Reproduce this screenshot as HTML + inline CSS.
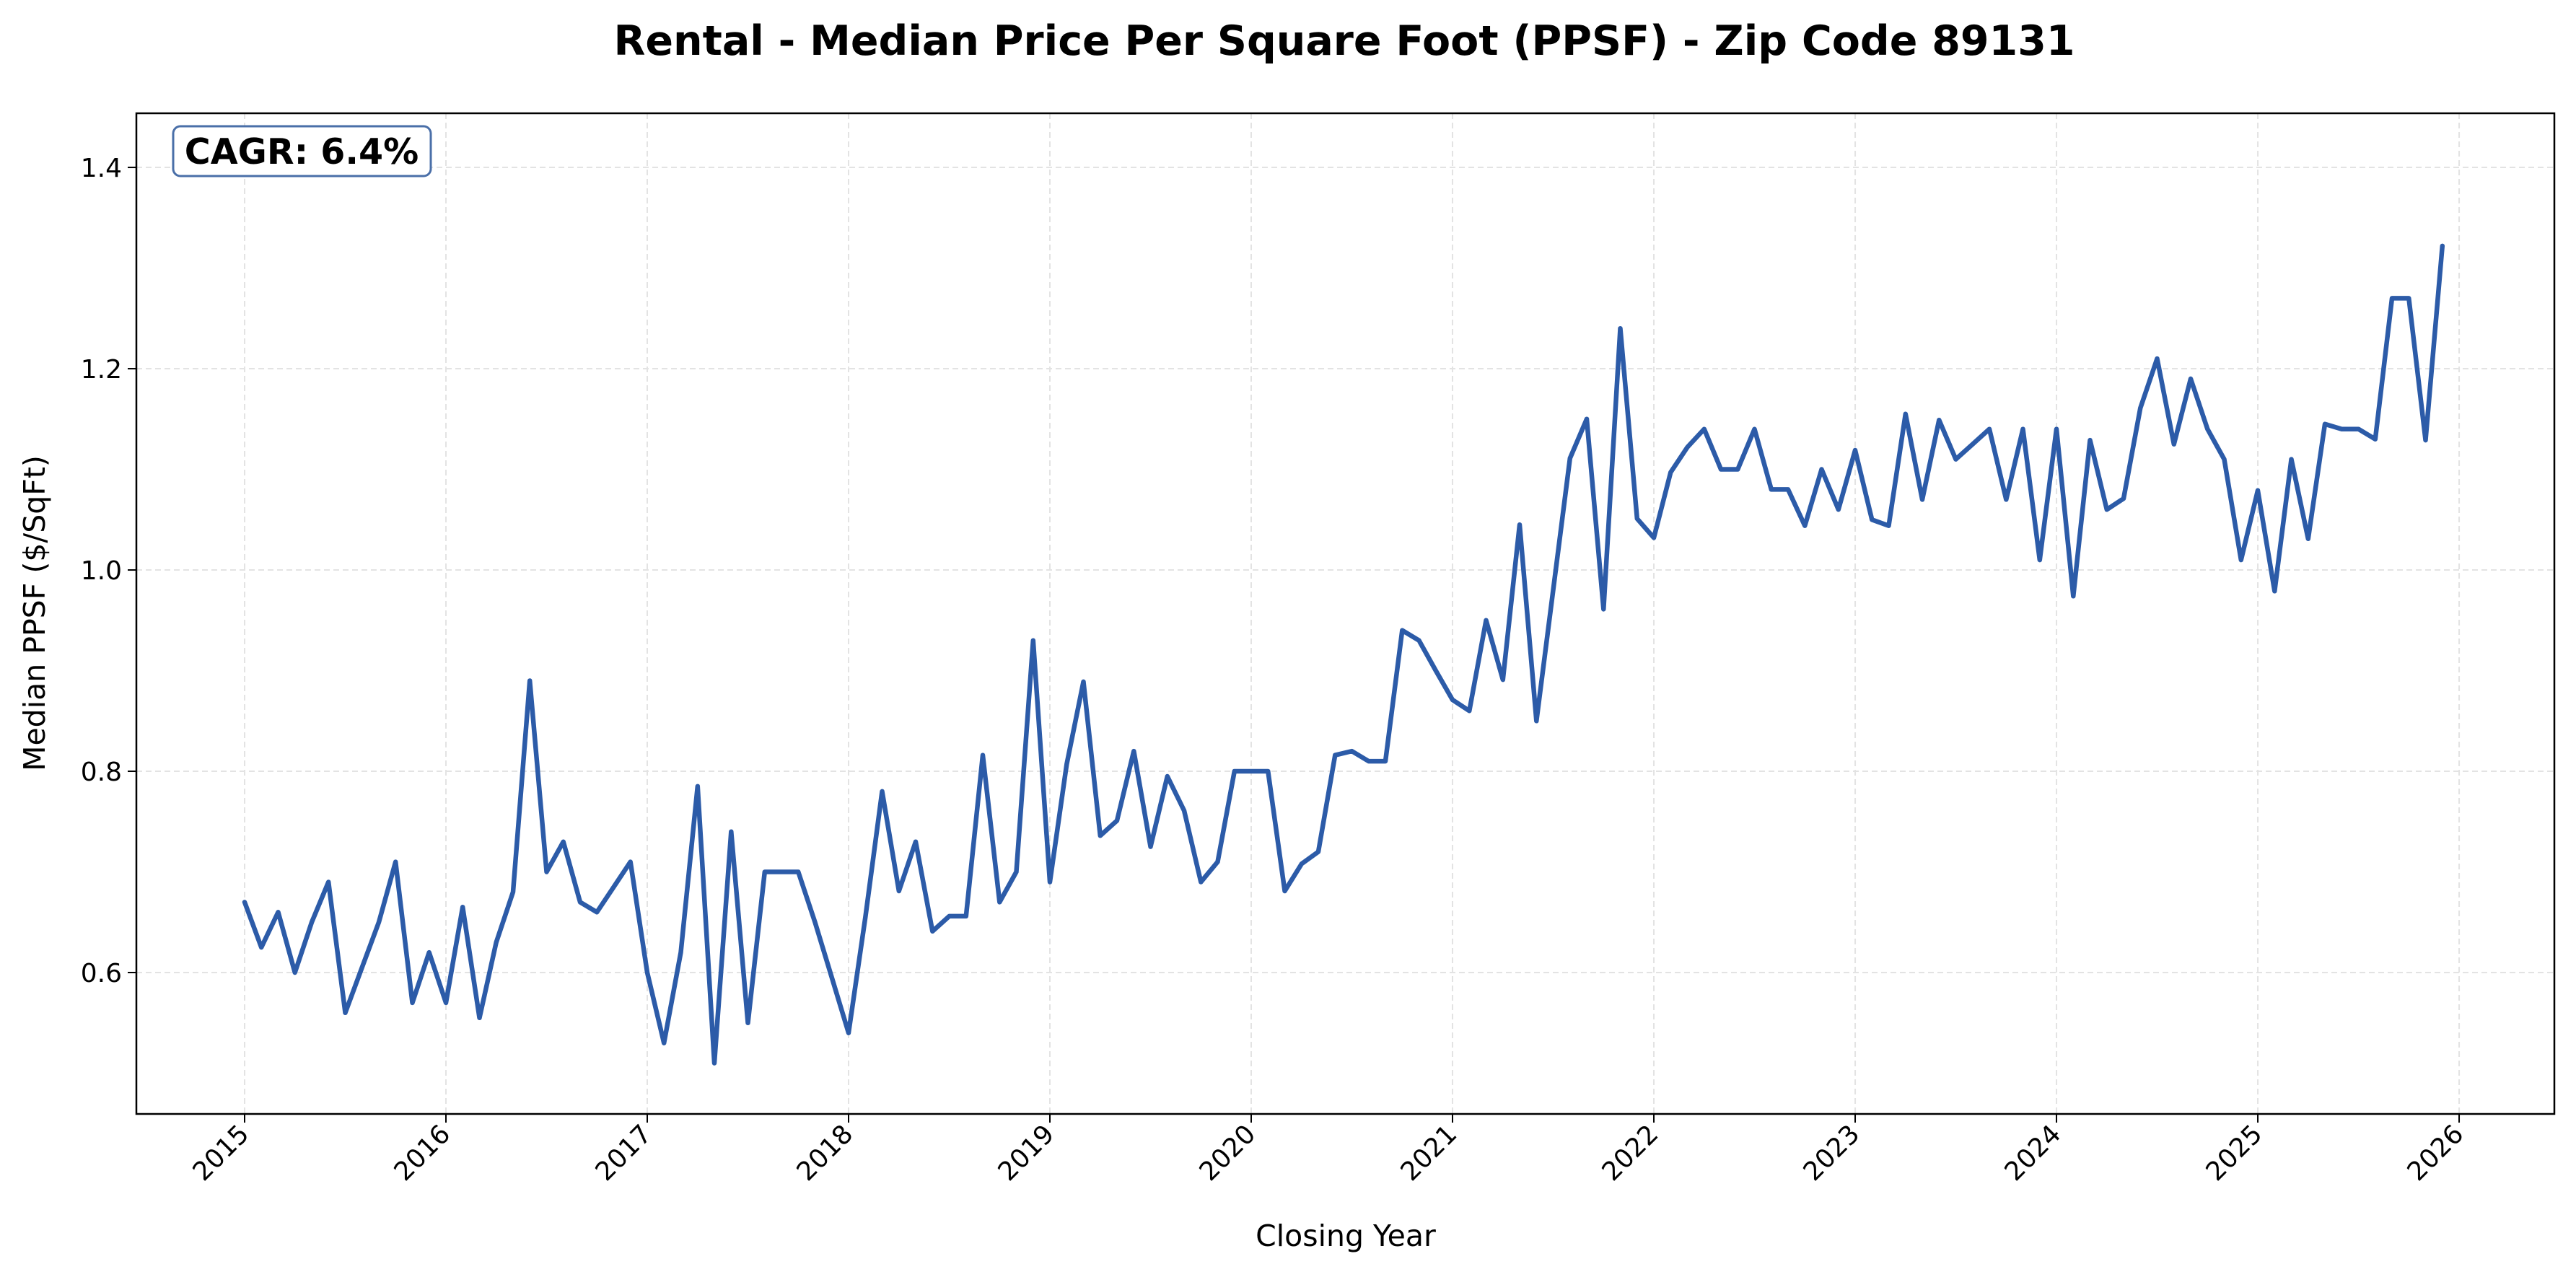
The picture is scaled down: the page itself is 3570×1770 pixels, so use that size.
<!DOCTYPE html>
<html><head><meta charset="utf-8"><style>
html,body{margin:0;padding:0;background:#fff;}
svg{display:block;font-family:"DejaVu Sans","Liberation Sans",sans-serif;}
</style></head><body>
<svg id="chart" width="3570" height="1770" viewBox="0 0 3570 1770" xmlns="http://www.w3.org/2000/svg">
<rect width="3570" height="1770" fill="#fff"/>
<text x="1863" y="76" text-anchor="middle" font-size="57" font-weight="bold">Rental - Median Price Per Square Foot (PPSF) - Zip Code 89131</text>
<g id="grid"></g>
<g id="axes"></g>
<g id="series"></g>
<text x="1865" y="1727" text-anchor="middle" font-size="41">Closing Year</text>
<text transform="translate(62,850) rotate(-90)" text-anchor="middle" font-size="41">Median PPSF ($/SqFt)</text>
<g>
<rect x="240" y="175" width="357" height="69" rx="10" fill="#fff" stroke="#4a6fa8" stroke-width="3"/>
<text x="418" y="227" text-anchor="middle" font-size="49" font-weight="bold">CAGR: 6.4%</text>
</g>
</svg>
<script>
const startYear = 2015;
const values2015 = [0.67,0.625,0.66,0.60,0.65,0.69,0.56,0.605,0.65,0.71,0.57,0.62];
const values2016 = [0.57,0.665,0.555,0.63,0.68,0.89,0.70,0.73,0.67,0.66,0.685,0.71];
const values2017 = [0.60,0.53,0.62,0.785,0.51,0.74,0.55,0.70,0.70,0.70,0.65,0.595];
const values2018 = [0.54,0.655,0.78,0.681,0.73,0.641,0.656,0.656,0.816,0.67,0.70,0.93];
const values2019 = [0.69,0.807,0.889,0.736,0.751,0.82,0.725,0.795,0.761,0.69,0.71,0.80];
const values2020 = [0.80,0.80,0.681,0.708,0.72,0.816,0.82,0.81,0.81,0.94,0.93,0.90];
const values2021 = [0.871,0.86,0.95,0.891,1.045,0.85,0.98,1.111,1.15,0.961,1.24,1.051];
const values2022 = [1.032,1.097,1.122,1.14,1.10,1.10,1.14,1.08,1.08,1.044,1.10,1.06];
const values2023 = [1.119,1.05,1.044,1.155,1.07,1.149,1.11,1.125,1.14,1.07,1.14,1.01];
const values2024 = [1.14,0.974,1.129,1.06,1.071,1.161,1.21,1.125,1.19,1.14,1.11,1.01];
const values2025 = [1.079,0.979,1.11,1.031,1.145,1.14,1.14,1.13,1.27,1.27,1.129,1.322];
const xTickLabels = ["2015","2016","2017","2018","2019","2020","2021","2022","2023","2024","2025","2026"];
const yTickLabels = ["0.6","0.8","1.0","1.2","1.4"];

const NS="http://www.w3.org/2000/svg";
const L=189,R=3540,T=157,B=1544;
const xMin=2014.4624,xMax=2026.473,yMin=0.4595,yMax=1.4538;
function xs(v){return L+(v-xMin)/(xMax-xMin)*(R-L);}
function ys(v){return B-(v-yMin)/(yMax-yMin)*(B-T);}
function mk(tag,attrs,parent){const e=document.createElementNS(NS,tag);for(const k in attrs)e.setAttribute(k,attrs[k]);parent.appendChild(e);return e;}
const grid=document.getElementById('grid'),axes=document.getElementById('axes'),series=document.getElementById('series');

xTickLabels.forEach(t=>{
  const x=xs(parseFloat(t));
  const g=mk('line',{x1:x,x2:x,y1:T,y2:B,stroke:'#e3e3e3','stroke-width':2,'stroke-dasharray':'8,5'},grid);
  
  
  const tk=mk('line',{x1:x,x2:x,y1:B,y2:B+12,stroke:'#000','stroke-width':2},axes);
  
  
  const lb=mk('text',{x:x+8,y:B+30,'text-anchor':'end','font-size':36,transform:'rotate(-45 '+(x+8)+' '+(B+30)+')'},axes);
  lb.textContent=t;
  
  
});
yTickLabels.forEach(t=>{
  const y=ys(parseFloat(t));
  const g=mk('line',{x1:L,x2:R,y1:y,y2:y,stroke:'#e3e3e3','stroke-width':2,'stroke-dasharray':'8,5'},grid);
  
  
  const tk=mk('line',{x1:L-12,x2:L,y1:y,y2:y,stroke:'#000','stroke-width':2},axes);
  
  
  const lb=mk('text',{x:L-20,y:y+13,'text-anchor':'end','font-size':36},axes);
  lb.textContent=t;
  
  
});
const frame=mk('rect',{x:L,y:T,width:R-L,height:B-T,fill:'none',stroke:'#000','stroke-width':2.5},axes);



const all=[values2015,values2016,values2017,values2018,values2019,values2020,values2021,values2022,values2023,values2024,values2025];
const pts=[];
all.forEach((arr,yi)=>arr.forEach((v,m)=>{pts.push(xs(startYear+yi+m/12).toFixed(1)+','+ys(v).toFixed(1));}));
const line=mk('polyline',{points:pts.join(' '),fill:'none',stroke:'#2c5ba8','stroke-width':6.5,'stroke-linejoin':'round','stroke-linecap':'round'},series);


</script>
</body></html>
